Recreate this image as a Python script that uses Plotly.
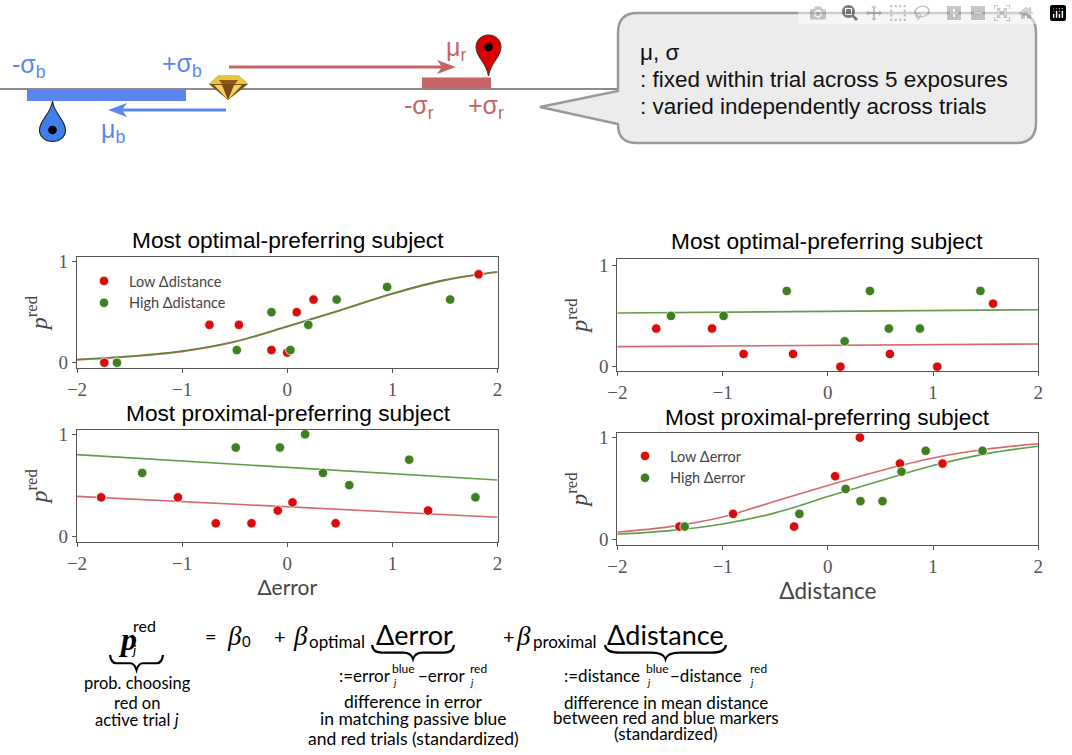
import plotly.graph_objects as go

W, H = 1072, 755
RED, GREEN = "#d90c0c", "#3f7f1f"
LRED, LGREEN = "#d8686c", "#5f9f48"
SERIF = "Liberation Serif"
SANS = "Liberation Sans"
EQ = "Lato"
GREY = "#555555"
BLUE = "#5b86f0"
BROWNRED = "#c46464"

x_ticks = [-2, -1, 0, 1, 2]
y_ticks = [0, 1]

# Panel A: most optimal-preferring, against delta error
a_red_x = [-1.74, -0.74, -0.46, -0.15, 0.0, 0.09, 0.25, 1.82]
a_red_y = [0.0, 0.375, 0.375, 0.125, 0.1, 0.5, 0.625, 0.875]
a_green_x = [-1.62, -0.48, -0.15, 0.03, 0.2, 0.47, 0.95, 1.55]
a_green_y = [0.0, 0.125, 0.5, 0.125, 0.375, 0.625, 0.75, 0.625]
a_curve_x = [-2, -1.5, -1, -0.5, 0, 0.5, 1, 1.5, 2]
a_curve_red = [0.028, 0.06, 0.11, 0.205, 0.355, 0.515, 0.68, 0.815, 0.895]
a_curve_green = [0.032, 0.064, 0.115, 0.21, 0.36, 0.52, 0.685, 0.82, 0.9]

# Panel B: most proximal-preferring, against delta error
b_red_x = [-1.77, -1.04, -0.68, -0.34, -0.09, 0.05, 0.46, 1.34]
b_red_y = [0.38, 0.38, 0.125, 0.125, 0.25, 0.33, 0.125, 0.25]
b_green_x = [-1.38, -0.49, -0.07, 0.17, 0.34, 0.59, 1.16, 1.79]
b_green_y = [0.62, 0.87, 0.87, 1.0, 0.62, 0.5, 0.75, 0.38]
b_line_x = [-2, 2]
b_line_red = [0.39, 0.185]
b_line_green = [0.80, 0.55]

# Panel C: most optimal-preferring, against delta distance
c_red_x = [-1.63, -1.1, -0.8, -0.33, 0.12, 0.59, 1.04, 1.57]
c_red_y = [0.375, 0.375, 0.125, 0.125, 0.0, 0.125, 0.0, 0.62]
c_green_x = [-1.49, -0.99, -0.39, 0.16, 0.4, 0.58, 0.875, 1.45]
c_green_y = [0.5, 0.5, 0.745, 0.25, 0.745, 0.375, 0.375, 0.745]
c_line_x = [-2, 2]
c_line_red = [0.197, 0.223]
c_line_green = [0.528, 0.56]

# Panel D: most proximal-preferring, against delta distance
d_red_x = [-1.41, -0.9, -0.32, 0.07, 0.305, 0.685, 1.09]
d_red_y = [0.125, 0.25, 0.125, 0.62, 1.0, 0.745, 0.745]
d_green_x = [-1.36, -0.27, 0.17, 0.31, 0.52, 0.7, 0.93, 1.47]
d_green_y = [0.125, 0.25, 0.495, 0.375, 0.375, 0.665, 0.87, 0.87]
d_curve_x = [-2, -1.5, -1, -0.5, 0, 0.5, 1, 1.5, 2]
d_curve_red = [0.07, 0.125, 0.22, 0.375, 0.53, 0.675, 0.80, 0.885, 0.94]
d_curve_green = [0.05, 0.085, 0.15, 0.26, 0.42, 0.575, 0.725, 0.84, 0.915]

panel_titles = ["Most optimal-preferring subject", "Most proximal-preferring subject"]
bubble_lines = ["μ, σ", ": fixed within trial across 5 exposures", ": varied independently across trials"]

# name: x0, x1, top, bottom, pixel row of y=0, pixels per unit y
boxes = {
    "A": (77, 497.5, 257, 368, 362.7, 101),
    "B": (77, 497.5, 430, 541.7, 536, 101.7),
    "C": (617.3, 1038.3, 259.3, 371, 366.7, 101.7),
    "D": (617.3, 1038.3, 433.3, 545, 539.3, 101.7),
}

fig = go.Figure()


def add_panel(idx, key, rx, ry, gx, gy, lines, legend=None, names=None, xtitle=None, size=None):
    x0, x1, top, bottom, zero, unit = boxes[key]
    sfx = str(idx)
    xa, ya = "x" + sfx, "y" + sfx
    for (lx, ly, col) in lines:
        fig.add_trace(go.Scatter(x=lx, y=ly, mode="lines", line=dict(color=col, width=1.6, shape="spline", smoothing=1),
                                 xaxis=xa, yaxis=ya, showlegend=False, hoverinfo="skip"))
    for i, (mx, my, col) in enumerate([(rx, ry, RED), (gx, gy, GREEN)]):
        fig.add_trace(go.Scatter(x=mx, y=my, mode="markers", marker=dict(color=col, size=9.5, line=dict(color="white", width=0.8)),
                                 xaxis=xa, yaxis=ya, name=names[i] if names else "",
                                 showlegend=bool(names), legend=legend or "legend"))
    fig.update_layout(**{
        "xaxis" + sfx: dict(domain=[x0 / W, x1 / W], range=[-2, 2], anchor=ya, tickvals=x_ticks, showgrid=False, zeroline=False,
                            showline=True, mirror=True, linecolor=GREY, linewidth=1.2, ticks="outside", ticklen=4, tickcolor=GREY,
                            tickfont=dict(family=SERIF, size=19, color=GREY),
                            title=dict(text=xtitle, standoff=6, font=dict(family=EQ, size=size or 20, color="#444444")) if xtitle else None),
        "yaxis" + sfx: dict(domain=[1 - bottom / H, 1 - top / H], range=[(zero - bottom) / unit, (zero - top) / unit], anchor=xa,
                            tickvals=y_ticks, showgrid=False, zeroline=False, showline=True, mirror=True, linecolor=GREY, linewidth=1.2,
                            ticks="outside", ticklen=4, tickcolor=GREY, tickfont=dict(family=SERIF, size=19, color=GREY),
                            title=dict(text="<i>p</i><sup>red</sup>", standoff=4, font=dict(family=SERIF, size=24, color="#444444"))),
    })


add_panel(1, "A", a_red_x, a_red_y, a_green_x, a_green_y,
          [(a_curve_x, a_curve_red, LRED), (a_curve_x, a_curve_green, "#5c8a3a")],
          legend="legend", names=["Low Δdistance", "High Δdistance"])
add_panel(2, "B", b_red_x, b_red_y, b_green_x, b_green_y,
          [(b_line_x, b_line_red, LRED), (b_line_x, b_line_green, LGREEN)], xtitle="Δerror", size=21)
add_panel(3, "C", c_red_x, c_red_y, c_green_x, c_green_y,
          [(c_line_x, c_line_red, LRED), (c_line_x, c_line_green, LGREEN)])
add_panel(4, "D", d_red_x, d_red_y, d_green_x, d_green_y,
          [(d_curve_x, d_curve_red, LRED), (d_curve_x, d_curve_green, LGREEN)],
          legend="legend2", names=["Low Δerror", "High Δerror"], xtitle="Δdistance", size=22.5)

# Full-figure overlay axis in pixel units carries the schematic, the bubble and the equation.
baseline_x = [0, 620]
baseline_y = [89, 89]
fig.add_trace(go.Scatter(x=baseline_x, y=baseline_y, mode="lines", line=dict(color="#666666", width=1.5),
                         xaxis="x5", yaxis="y5", showlegend=False, hoverinfo="skip"))

shapes = []


def rect(x0, y0, x1, y1, col):
    shapes.append(dict(type="rect", x0=x0, x1=x1, y0=y0, y1=y1, fillcolor=col, line=dict(width=0), layer="above"))


def path(d, fill=None, line=None, width=1.0):
    shapes.append(dict(type="path", path=d, fillcolor=fill or "rgba(0,0,0,0)",
                       line=dict(color=line or "rgba(0,0,0,0)", width=width if line else 0), layer="above"))


def dot(cx, cy, r):
    shapes.append(dict(type="circle", x0=cx - r, x1=cx + r, y0=cy - r, y1=cy + r, fillcolor="black", line=dict(width=0), layer="above"))


rect(27, 89, 186, 101, BLUE)
rect(422, 77.5, 491, 88.5, BROWNRED)
# arrows
path("M229,67 L450,67", line=BROWNRED, width=3)
path("M456,67 L437,60 L442,67 L437,74 Z", fill=BROWNRED)
path("M226,110 L114,110", line=BLUE, width=3)
path("M108,110 L127,103 L122,110 L127,117 Z", fill=BLUE)
# blue drop
path("M52.5,101 C54,114 65.5,120 65.5,130 C65.5,137 59.5,141.5 52.5,141.5 C45.5,141.5 39.5,137 39.5,130 C39.5,120 51,114 52.5,101 Z",
     fill="#3f7fe8", line="#222222", width=1.1)
dot(52.5, 130, 4.3)
# red pin
path("M488.5,76 C486,62 476,57 476,47 C476,40 481.5,35 488.5,35 C495.5,35 501,40 501,47 C501,57 491,62 488.5,76 Z",
     fill="#dc0000", line="#333333", width=1)
dot(488.5, 47, 4.3)
# diamond
path("M209,84 L219,75 L238,75 L248,84 L228,100 Z", fill="#7a4a10")
path("M209,84 L219,75 L238,75 L248,84 Z", fill="#e8c838")
path("M214,85 L228,100 L222,85 Z M242,85 L228,100 L234,85 Z", fill="#f0d060")
path("M219,80 L238,80 L235,84 L222,84 Z", fill="#8a5a18")
# speech bubble
path("M637,13 L1016,13 Q1036,13 1036,33 L1036,123 Q1036,143 1016,143 L637,143 Q618,143 618,125 "
     "L618,124 L540,107 L618,91 L618,33 Q618,13 637,13 Z", fill="#ececec", line="#9a9a9a", width=2.5)


def brace(x0, x1, y0, d, w=2.2):
    m = (x0 + x1) / 2
    s = (x1 - x0) * 0.12
    y1 = y0 + d * 0.55
    y2 = y0 + d
    path(f"M{x0},{y0} Q{x0 + 1},{y1} {x0 + s},{y1} L{m - s},{y1} Q{m - 2},{y1} {m},{y2} "
         f"Q{m + 2},{y1} {m + s},{y1} L{x1 - s},{y1} Q{x1 - 1},{y1} {x1},{y0}", line="black", width=w)


brace(372, 454, 645, 14)
brace(605, 726, 645, 14)
brace(110, 163, 655, 15)

annotations = []


def txt(x, y, text, size, col="black", fam=SANS, anchor="left", ax="x5", ay="y5"):
    annotations.append(dict(x=x, y=y, xref=ax, yref=ay, text=text, showarrow=False, xanchor=anchor, yanchor="middle",
                            font=dict(family=fam, size=size, color=col), align=anchor))


# schematic labels
txt(10, 66, "-σ<sub>b</sub>", 25, BLUE)
txt(160, 65, "+σ<sub>b</sub>", 25, BLUE)
txt(99, 131, "μ<sub>b</sub>", 25, BLUE)
txt(444, 49, "μ<sub>r</sub>", 25, BROWNRED)
txt(402, 107, "-σ<sub>r</sub>", 25, BROWNRED)
txt(466, 107, "+σ<sub>r</sub>", 25, BROWNRED)
for yy, line in zip([52, 79, 106], bubble_lines):
    txt(638, yy, line, 22.5, "#111111")
# panel titles
txt(288, 240, panel_titles[0], 22.7, anchor="center")
txt(288, 413, panel_titles[1], 22.7, anchor="center")
txt(827, 241, panel_titles[0], 22.7, anchor="center")
txt(827, 417, panel_titles[1], 22.7, anchor="center")
# equation
txt(116, 639, "<b><i>p</i></b>", 32, fam=SERIF)
txt(131, 625, "red", 16, fam=EQ)
txt(129, 649, "<i>j</i>", 14, fam=EQ)
txt(203, 636, "=", 20, fam=EQ)
txt(225, 636, "<i>β</i>", 27, fam=SERIF)
txt(240, 641, "0", 15, fam=EQ)
txt(272, 636, "+", 20, fam=EQ)
txt(291, 636, "<i>β</i>", 27, fam=SERIF)
txt(307, 641, "optimal", 17, fam=EQ)
txt(374, 634, "Δerror", 27, fam=EQ)
txt(501, 636, "+", 20, fam=EQ)
txt(514, 636, "<i>β</i>", 27, fam=SERIF)
txt(531, 641, "proximal", 17, fam=EQ)
txt(605, 634, "Δdistance", 27, fam=EQ)
for yy, line in zip([683, 703, 720], ["prob. choosing", "red on", "active trial <i>j</i>"]):
    txt(137, yy, line, 16.5, fam=EQ, anchor="center")
for yy, line in zip([701, 718, 738], ["difference in error", "in matching passive blue", "and red trials (standardized)"]):
    txt(413, yy, line, 17.5, fam=EQ, anchor="center")
for yy, line in zip([702, 717, 733], ["difference in mean distance", "between red and blue markers", "(standardized)"]):
    txt(666, yy, line, 17, fam=EQ, anchor="center")
txt(337, 675, ":=error", 17, fam=EQ)
txt(390, 668, "blue", 12, fam=EQ)
txt(391, 682, "<i>j</i>", 10, fam=EQ)
txt(416, 675, "−error", 17, fam=EQ)
txt(468, 668, "red", 12, fam=EQ)
txt(468, 682, "<i>j</i>", 10, fam=EQ)
txt(562, 675, ":=distance", 17, fam=EQ)
txt(644, 668, "blue", 12, fam=EQ)
txt(645, 682, "<i>j</i>", 10, fam=EQ)
txt(668, 675, "−distance", 17, fam=EQ)
txt(748, 668, "red", 12, fam=EQ)
txt(748, 682, "<i>j</i>", 10, fam=EQ)

fig.update_layout(
    width=W, height=H, margin=dict(l=0, r=0, t=0, b=0, autoexpand=False), autosize=False,
    paper_bgcolor="white", plot_bgcolor="rgba(0,0,0,0)",
    shapes=shapes, annotations=annotations,
    xaxis5=dict(domain=[0, 1], range=[0, W], visible=False, anchor="y5", fixedrange=True),
    yaxis5=dict(domain=[0, 1], range=[H, 0], visible=False, anchor="x5", fixedrange=True),
    legend=dict(x=79 / W, y=1 - 265 / H, xanchor="left", yanchor="top", bgcolor="rgba(0,0,0,0)", itemwidth=40,
                font=dict(family=EQ, size=14.5, color="#444444")),
    legend2=dict(x=620 / W, y=1 - 440 / H, xanchor="left", yanchor="top", bgcolor="rgba(0,0,0,0)", itemwidth=40,
                 font=dict(family=EQ, size=14.5, color="#444444")),
)

for s in fig.layout.shapes:
    s.xref = "x5"
    s.yref = "y5"

fig.write_html("out.html", post_script="document.body.style.margin='0';document.body.style.padding='0';")
